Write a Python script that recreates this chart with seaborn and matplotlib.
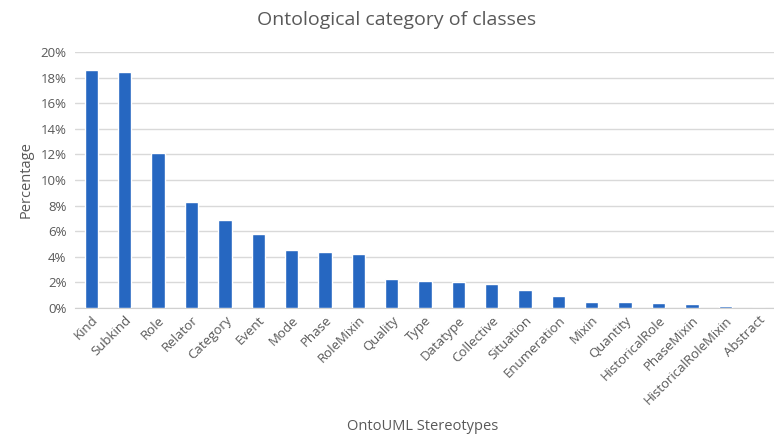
import matplotlib
matplotlib.use('Agg')
from matplotlib import pyplot as plt
from matplotlib.ticker import PercentFormatter
import pandas as pd
import seaborn as sns

stereotypes = ['Kind', 'Subkind', 'Role', 'Relator', 'Category', 'Event', 'Mode',
               'Phase', 'RoleMixin', 'Quality', 'Type', 'Datatype', 'Collective',
               'Situation', 'Enumeration', 'Mixin', 'Quantity', 'HistoricalRole',
               'PhaseMixin', 'HistoricalRoleMixin', 'Abstract']
percentages = [18.6, 18.4, 12.1, 8.3, 6.9, 5.8, 4.5, 4.4, 4.2, 2.3, 2.1, 2.0, 1.9,
               1.4, 0.95, 0.5, 0.44, 0.36, 0.29, 0.16, 0.0]

df = pd.DataFrame({'stereotype': stereotypes, 'percentage': percentages})

sns.set_style('white')
plt.rcParams['font.family'] = ['Open Sans', 'DejaVu Sans']
text_color = '#595959'

fig = plt.figure(figsize=(7.74, 4.37), dpi=100)
ax = fig.add_axes([0.0966, 0.295, 0.905, 0.586])
sns.barplot(data=df, x='stereotype', y='percentage', color='#2667c1',
            width=0.4, saturation=1, ax=ax, zorder=3)

ax.set_ylim(0, 20)
ax.set_yticks(range(0, 21, 2))
ax.yaxis.set_major_formatter(PercentFormatter(decimals=0))
ax.grid(axis='y', color='#d9d9d9', linewidth=1, zorder=0)
ax.set_axisbelow(True)
for side in ['left', 'right', 'top']:
    ax.spines[side].set_visible(False)
ax.spines['bottom'].set_color('#d0d0d0')
ax.tick_params(axis='both', length=0, colors=text_color, labelsize=9.5)
ax.tick_params(axis='y', pad=6)
ax.tick_params(axis='x', pad=4)
plt.setp(ax.get_xticklabels(), rotation=45, ha='right', rotation_mode='anchor')

ax.set_xlabel('')
ax.set_ylabel('Percentage', color=text_color, fontsize=10.5, labelpad=5)
fig.text(0.546, 0.023, 'OntoUML Stereotypes', ha='center', va='center',
         color=text_color, fontsize=10.5)
fig.text(0.512, 0.955, 'Ontological category of classes', ha='center', va='center',
         color=text_color, fontsize=14)

fig.savefig('out.png', dpi=100)
